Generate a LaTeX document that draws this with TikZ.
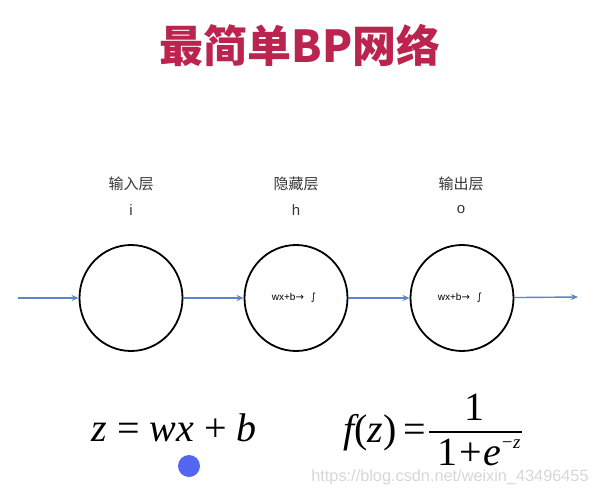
\documentclass[tikz,border=0pt]{standalone}
\usepackage{fontspec}
\setmainfont{Liberation Sans}
\newfontfamily\cjk{Noto Sans CJK SC}
\newfontfamily\tms{Liberation Serif}
\newfontfamily\dvs{DejaVu Sans}
\usetikzlibrary{arrows.meta,shapes.geometric}
\definecolor{titlered}{RGB}{188,36,80}
\definecolor{arrowblue}{RGB}{90,135,200}
\definecolor{labelgray}{RGB}{55,55,55}
\definecolor{dotblue}{RGB}{82,102,240}
\definecolor{wmgray}{RGB}{215,215,215}
\begin{document}
\begin{tikzpicture}[x=1pt,y=-1pt,
  titletext/.style={font=\cjk\bfseries\fontsize{44}{50}\selectfont, text=titlered, inner sep=0pt},
  layerlabel/.style={font=\cjk\fontsize{15}{18}\selectfont, text=labelgray, inner sep=0pt},
  idxlabel/.style={font=\fontsize{15}{18}\selectfont, text=labelgray, inner sep=0pt},
  neuron/.style={ellipse, draw=black, line width=1.8pt, minimum width=103pt, minimum height=106pt, inner sep=0pt},
  neurontext/.style={font=\fontsize{10}{12}\selectfont, text=black, inner sep=0pt},
  arr/.style={draw=arrowblue, line width=1.4pt, -{Stealth[length=7pt,width=6pt]}},
  formula/.style={font=\tms\fontsize{40}{48}\selectfont, inner sep=0pt, anchor=base},
  supf/.style={font=\tms\fontsize{19}{22}\selectfont, inner sep=0pt, anchor=base},
  wm/.style={font=\fontsize{16.3}{19}\selectfont, text=wmgray, inner sep=0pt, anchor=base}
]
\useasboundingbox (0,0) rectangle (597,495);
\fill[white] (0,0) rectangle (597,495);

\node[titletext] (title) at (300,45) {最简单BP网络};

\node[layerlabel] (l1) at (131,184) {输入层};
\node[idxlabel] (i1) at (131,210) {i};
\node[layerlabel] (l2) at (296,184) {隐藏层};
\node[idxlabel] (i2) at (296,210) {h};
\node[layerlabel] (l3) at (461,184) {输出层};
\node[idxlabel] (i3) at (461,210) {o};

\node[neuron] (n1) at (131,298) {};
\node[neuron] (n2) at (296,298) {};
\node[neuron] (n3) at (462,298) {};
\node[neurontext] (t2) at (294,298) {wx+b{\dvs →}\hspace{7pt}{\dvs ∫}};
\node[neurontext] (t3) at (460,298) {wx+b{\dvs →}\hspace{7pt}{\dvs ∫}};

\coordinate (in) at (18,298);
\coordinate (out) at (578,297);
\draw[arr] (in) -- (n1);
\draw[arr] (n1) -- (n2);
\draw[arr] (n2) -- (n3);
\draw[arr] (n3) -- (out);

\node[formula] (f1) at (174,441) {\itshape z\upshape\ = \itshape wx\upshape\ + \itshape b};

\node[formula, anchor=base east] (f2) at (426,442) {\itshape f\upshape(\itshape z\upshape)\,=};
\coordinate (fl) at (429,432);
\coordinate (fr) at (522,432);
\draw[line width=1.2pt] (fl) -- (fr);
\node[formula] (num) at (474,420) {1};
\node[formula, anchor=base west] (den) at (437,465) {1\kern2pt+\kern2pt\itshape e};
\node[supf, anchor=base west, yshift=17pt] (sup) at (den.base east) {−\kern0.5pt\itshape z};

\fill[dotblue] (189,466) circle (11pt);

\node[wm] (wmark) at (450,481) {https://blog.csdn.net/weixin\_43496455};
\end{tikzpicture}
\end{document}
